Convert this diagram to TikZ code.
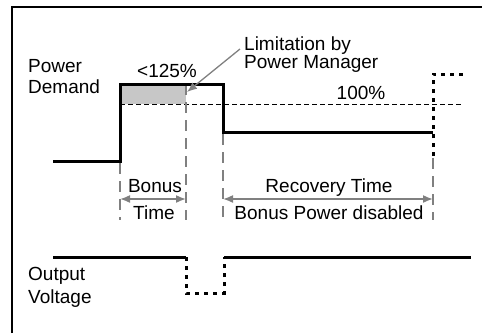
\documentclass[tikz,border=0pt]{standalone}
\usepackage{fontspec}
\setmainfont{Liberation Sans}
\usetikzlibrary{arrows.meta}
\begin{document}
\begin{tikzpicture}[x=1pt,y=-1pt,
  lbl/.style={inner sep=0pt,font=\fontsize{19}{21}\selectfont},
  wave/.style={line width=3pt,black},
  dotwave/.style={line width=3pt,black,dash pattern=on 4pt off 5pt},
  marker/.style={line width=1.6pt,gray,dash pattern=on 11pt off 7pt},
  refline/.style={line width=0.9pt,black,dash pattern=on 5pt off 3pt},
  span/.style={line width=1.6pt,gray,{Latex[length=10pt,width=8pt]}-{Latex[length=10pt,width=8pt]}},
  pointer/.style={line width=1.3pt,gray,-{Latex[length=10pt,width=8pt]}},
  frameline/.style={line width=2pt,black}]
\useasboundingbox (0,0) rectangle (482,333);
% frame
\draw[frameline] (12,333) -- (12,7) -- (482,7);
% key coordinates
\coordinate (p0) at (53,161);
\coordinate (p1) at (120,161);
\coordinate (p2) at (120,84);
\coordinate (p3) at (223,84);
\coordinate (p4) at (223,132);
\coordinate (p5) at (433,132);
\coordinate (p6) at (433,74);
\coordinate (p7) at (463,74);
% shaded area
\fill[black!22] (p2) rectangle (186,104);
% 100% line
\draw[refline] (120,104) -- (463,104);
% markers
\draw[marker] (120,163) -- (120,220);
\draw[marker] (186,84) -- (186,220);
\draw[marker] (223,134) -- (223,220);
\draw[marker] (433,158) -- (433,220);
% waveform
\draw[wave] (p0) -- (p1) -- (p2) -- (p3) -- (p4) -- (p5);
\draw[dotwave] (433,156) -- (p5) -- (p6) -- (p7);
% output voltage
\coordinate (o0) at (53,257);
\coordinate (o1) at (186,257);
\coordinate (o2) at (186,293);
\coordinate (o3) at (224,293);
\coordinate (o4) at (224,257);
\coordinate (o5) at (471,257);
\draw[wave] (o0) -- (o1);
\draw[dotwave] (o1) -- (o2) -- (o3) -- (o4);
\draw[wave] (o4) -- (o5);
% spans
\coordinate (b0) at (120,199);
\coordinate (b1) at (186,199);
\coordinate (r0) at (223,199);
\coordinate (r1) at (433,199);
\draw[span] (b0) -- (b1);
\draw[span] (r0) -- (r1);
% labels
\node[lbl,anchor=base west] (pw) at (28,72) {Power};
\node[lbl,anchor=base west] (dm) at (28,93) {Demand};
\node[lbl,anchor=base] (pc125) at (167,77) {<125\%};
\node[lbl,anchor=base west] (lm1) at (244,50) {Limitation by};
\node[lbl,anchor=base west] (lm2) at (244,68) {Power Manager};
\node[lbl,anchor=base] (pc100) at (361,99) {100\%};
\node[lbl,anchor=base] (bn) at (155,192) {Bonus};
\node[lbl,anchor=base] (tm) at (154,219) {Time};
\node[lbl,anchor=base] (rt) at (329,192) {Recovery Time};
\node[lbl,anchor=base] (bpd) at (329,219) {Bonus Power disabled};
\node[lbl,anchor=base west] (out) at (28,280) {Output};
\node[lbl,anchor=base west] (vol) at (28,303) {Voltage};
% pointer
\coordinate (ptr) at (240,49);
\draw[pointer] (ptr) -- (187,92);
\end{tikzpicture}
\end{document}
